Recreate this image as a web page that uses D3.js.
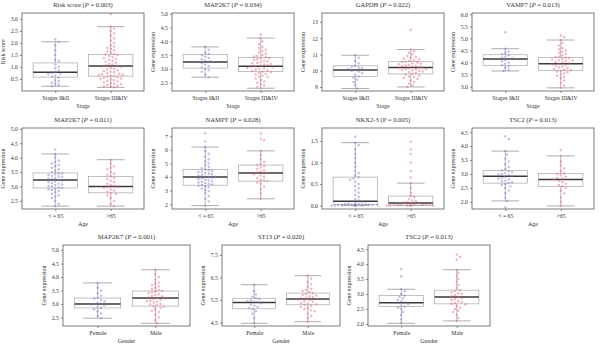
<!DOCTYPE html>
<html>
<head>
<meta charset="utf-8">
<script src="https://cdn.jsdelivr.net/npm/d3@7/dist/d3.min.js"></script>
<style>
  body { margin: 0; background: #fff; }
  svg text { font-family: "Liberation Serif", "DejaVu Serif", serif; fill: #333; }
</style>
</head>
<body>
<div id="chart"></div>
<script>
// values (box = [low whisker, Q1, median, Q3, high whisker])
const genes = ["Risk score", "MAP2K7", "GAPDH", "VAMP7", "MAP2K7", "NAMPT", "NKX2-3", "TSC2", "MAP2K7", "ST13", "TSC2"];
const pvals = ["0.003", "0.034", "0.022", "0.013", "0.011", "0.028", "0.005", "0.013", "0.001", "0.020", "0.013"];
const yTitles = ["Risk score", "Gene expression", "Gene expression", "Gene expression", "Gene expression", "Gene expression",
  "Gene expression", "Gene expression", "Gene expression", "Gene expression", "Gene expression"];
const xTitles = ["Stage", "Stage", "Stage", "Stage", "Age", "Age", "Age", "Age", "Gender", "Gender", "Gender"];
const stageCats = ["Stages I&II", "Stages III&IV"];
const ageCats = ["< = 65", ">65"];
const genderCats = ["Female", "Male"];

const yDomains = [[0.0, 3.25], [2.2, 5.03], [8.75, 13.55], [2.82, 6.05], [2.22, 5.03], [1.65, 7.6],
  [-0.08, 1.8], [1.74, 4.65], [2.18, 5.19], [4.35, 7.94], [1.93, 4.64]];
const yTicks = [
  [0.5, 1.0, 1.5, 2.0, 2.5, 3.0],
  [2.5, 3.0, 3.5, 4.0, 4.5, 5.0],
  [9, 10, 11, 12, 13],
  [3.0, 3.5, 4.0, 4.5, 5.0, 5.5, 6.0],
  [2.5, 3.0, 3.5, 4.0, 4.5, 5.0],
  [2, 3, 4, 5, 6, 7],
  [0.0, 0.5, 1.0, 1.5],
  [2.0, 2.5, 3.0, 3.5, 4.0, 4.5],
  [2.5, 3.0, 3.5, 4.0, 4.5, 5.0],
  [4.5, 5.5, 6.5, 7.5],
  [2.0, 2.5, 3.0, 3.5, 4.0, 4.5]
];
const tickFormats = [".1f", ".1f", "d", ".1f", ".1f", "d", ".1f", ".1f", ".1f", ".1f", ".1f"];

const boxA = [[0.2, 0.58, 0.78, 1.17, 2.05], [2.7, 3.03, 3.25, 3.52, 3.8], [8.9, 9.65, 10.05, 10.3, 10.95],
  [3.65, 3.88, 4.15, 4.32, 4.57], [2.32, 2.95, 3.23, 3.47, 4.13], [1.9, 3.4, 4.0, 4.55, 6.2],
  [0.0, 0.02, 0.1, 0.66, 1.46], [2.03, 2.67, 2.92, 3.13, 3.82], [2.47, 2.85, 3.0, 3.22, 3.78],
  [4.47, 5.11, 5.39, 5.58, 6.18], [2.02, 2.58, 2.71, 2.95, 3.16]];
const boxB = [[0.15, 0.62, 1.04, 1.52, 2.68], [2.3, 2.9, 3.1, 3.42, 4.12], [9.0, 9.8, 10.2, 10.55, 11.3],
  [2.95, 3.67, 3.95, 4.2, 4.93], [2.32, 2.78, 3.0, 3.35, 3.93], [2.4, 3.7, 4.3, 4.88, 5.92],
  [0.0, 0.01, 0.06, 0.22, 0.52], [1.85, 2.55, 2.8, 3.02, 3.65], [2.28, 2.92, 3.22, 3.48, 4.27],
  [4.54, 5.29, 5.55, 5.81, 6.58], [2.1, 2.67, 2.9, 3.13, 3.81]];

// individual samples, group A (blue) and group B (red)
const ptsA = [
  "0.2 0.25 0.3 0.35 0.4 0.45 0.55 0.6 0.65 0.7 0.72 0.75 0.8 0.85 0.95 1.0 1.1 1.25 1.3 1.5 1.7 1.9 2.05 2.15",
  "2.7 2.8 2.9 2.95 3.0 3.05 3.1 3.15 3.2 3.25 3.28 3.3 3.35 3.4 3.45 3.5 3.55 3.6 3.7 3.8",
  "8.9 9.1 9.3 9.45 9.55 9.65 9.75 9.85 9.95 10.0 10.05 10.1 10.15 10.2 10.25 10.3 10.45 10.6 10.8 10.95",
  "3.65 3.7 3.78 3.85 3.9 3.95 4.0 4.05 4.1 4.15 4.18 4.2 4.25 4.3 4.35 4.4 4.45 4.57 5.25",
  "2.32 2.4 2.5 2.6 2.65 2.7 2.75 2.8 2.85 2.88 2.9 2.92 2.95 2.97 3.0 3.02 3.05 3.07 3.1 3.12 3.15 3.17 3.2 3.22 3.23 3.25 3.27 3.3 3.32 3.35 3.37 3.4 3.42 3.45 3.47 3.5 3.55 3.6 3.65 3.7 3.75 3.8 3.85 3.9 4.0 4.13 4.28",
  "1.9 2.2 2.4 2.6 2.8 2.95 3.05 3.15 3.25 3.3 3.35 3.4 3.45 3.5 3.55 3.6 3.65 3.7 3.75 3.8 3.85 3.9 3.95 4.0 4.02 4.05 4.1 4.15 4.2 4.25 4.3 4.35 4.4 4.45 4.5 4.55 4.65 4.75 4.85 5.0 5.15 5.3 5.5 5.7 5.9 6.2 6.6 7.2",
  "0 0 0 0 0 0 0 0.01 0.01 0.01 0.02 0.02 0.02 0.03 0.03 0.04 0.05 0.06 0.08 0.1 0.12 0.15 0.2 0.25 0.3 0.35 0.4 0.45 0.5 0.55 0.6 0.63 0.66 0.7 0.75 0.8 0.9 1.0 1.1 1.2 1.3 1.4 1.46 1.6",
  "1.8 2.03 2.15 2.3 2.4 2.5 2.55 2.6 2.63 2.67 2.7 2.73 2.76 2.8 2.83 2.86 2.9 2.92 2.95 2.98 3.0 3.03 3.06 3.1 3.13 3.18 3.25 3.35 3.45 3.55 3.7 3.82 4.25 4.35",
  "2.47 2.55 2.65 2.72 2.8 2.85 2.9 2.95 2.98 3.0 3.02 3.05 3.1 3.15 3.2 3.22 3.3 3.4 3.5 3.6 3.78",
  "4.47 4.7 4.9 5.0 5.1 5.15 5.2 5.25 5.3 5.35 5.4 5.42 5.45 5.5 5.55 5.58 5.65 5.75 5.9 6.18",
  "2.02 2.15 2.3 2.4 2.5 2.55 2.58 2.62 2.66 2.7 2.72 2.75 2.8 2.85 2.9 2.95 3.0 3.1 3.16 3.59 3.83"
];
const ptsB = [
  "0.15 0.18 0.2 0.22 0.25 0.28 0.3 0.33 0.36 0.4 0.42 0.45 0.48 0.5 0.52 0.55 0.58 0.6 0.62 0.64 0.66 0.68 0.7 0.72 0.75 0.78 0.8 0.83 0.86 0.9 0.93 0.96 1.0 1.02 1.04 1.06 1.1 1.14 1.18 1.22 1.26 1.3 1.34 1.38 1.42 1.46 1.5 1.52 1.55 1.6 1.65 1.7 1.75 1.8 1.85 1.9 2.0 2.1 2.2 2.3 2.4 2.5 2.6 2.68 3.2",
  "2.3 2.35 2.4 2.45 2.5 2.55 2.6 2.65 2.7 2.72 2.75 2.8 2.82 2.85 2.88 2.9 2.92 2.95 2.97 3.0 3.02 3.04 3.06 3.08 3.1 3.12 3.14 3.16 3.18 3.2 3.22 3.25 3.28 3.3 3.32 3.35 3.38 3.4 3.42 3.45 3.48 3.5 3.55 3.6 3.65 3.7 3.75 3.8 3.9 4.0 4.12 4.25",
  "9.0 9.1 9.2 9.3 9.4 9.5 9.55 9.6 9.65 9.7 9.75 9.8 9.85 9.9 9.95 10.0 10.02 10.05 10.08 10.1 10.12 10.15 10.18 10.2 10.22 10.25 10.28 10.3 10.33 10.36 10.4 10.43 10.46 10.5 10.53 10.56 10.6 10.65 10.7 10.75 10.8 10.85 10.9 11.0 11.1 11.2 11.3 12.5",
  "2.95 3.05 3.15 3.25 3.35 3.4 3.45 3.5 3.55 3.6 3.62 3.65 3.68 3.7 3.73 3.76 3.8 3.83 3.86 3.9 3.92 3.95 3.97 4.0 4.02 4.05 4.08 4.1 4.12 4.15 4.18 4.2 4.22 4.25 4.3 4.35 4.4 4.45 4.5 4.55 4.6 4.7 4.8 4.93 5.05 5.12",
  "2.32 2.4 2.5 2.6 2.7 2.75 2.78 2.82 2.86 2.9 2.95 2.98 3.0 3.02 3.05 3.1 3.15 3.2 3.25 3.3 3.35 3.4 3.45 3.5 3.6 3.65 3.7 3.8 3.93",
  "2.4 2.8 3.1 3.3 3.5 3.6 3.7 3.75 3.8 3.9 4.0 4.1 4.2 4.25 4.3 4.35 4.4 4.5 4.6 4.7 4.8 4.88 4.95 5.1 5.3 5.6 5.92 6.7 6.8 7.2",
  "0 0 0 0 0 0 0.01 0.01 0.01 0.02 0.02 0.03 0.04 0.05 0.06 0.07 0.08 0.1 0.12 0.15 0.2 0.22 0.3 0.4 0.52 0.65 0.8 1.0 1.2 1.3 1.48",
  "1.85 2.0 2.15 2.3 2.4 2.5 2.55 2.6 2.65 2.7 2.75 2.8 2.83 2.86 2.9 2.95 3.0 3.02 3.1 3.2 3.3 3.45 3.65 3.85",
  "2.28 2.4 2.5 2.6 2.7 2.75 2.8 2.85 2.9 2.92 2.95 2.98 3.0 3.05 3.08 3.1 3.12 3.15 3.18 3.2 3.22 3.25 3.28 3.3 3.33 3.36 3.4 3.43 3.46 3.48 3.52 3.56 3.6 3.65 3.7 3.75 3.8 3.9 4.0 4.1 4.27",
  "4.54 4.7 4.8 4.9 5.0 5.05 5.1 5.15 5.2 5.25 5.29 5.32 5.35 5.38 5.42 5.45 5.5 5.52 5.55 5.58 5.6 5.63 5.66 5.7 5.73 5.76 5.8 5.85 5.9 5.95 6.0 6.1 6.2 6.3 6.45 6.58",
  "2.1 2.2 2.3 2.4 2.45 2.5 2.55 2.6 2.65 2.67 2.7 2.73 2.76 2.8 2.83 2.86 2.9 2.93 2.96 3.0 3.03 3.06 3.1 3.13 3.2 3.3 3.4 3.5 3.6 3.7 3.81 4.15 4.24 4.32"
];

// panel plot areas [left, right, top, bottom]
const frames = [
  [22, 144, 13, 91], [172, 294, 13, 91], [322, 444, 13, 91], [472, 594, 13, 91],
  [22, 144, 128, 209], [172, 294, 128, 209], [322, 444, 128, 209], [472, 594, 128, 209],
  [63, 190, 245, 326], [222, 340, 245, 326], [368, 490, 245, 326]
];

const W = 600, H = 345;
const colA = "#7a7ac8", colB = "#e4667c";

const svg = d3.select("#chart").append("svg")
  .attr("width", W).attr("height", H);

function swarm(vals, y, d, maxOff) {
  // simple beeswarm: place each point as close to the centre as possible
  let items = vals.map(v => ({ v: v, py: y(v) })).sort((a, b) => a.py - b.py);
  let placed = [];
  items.forEach(it => {
    let best = 0;
    for (let k = 0; k < 80; k++) {
      let off = (k % 2 ? 1 : -1) * Math.ceil(k / 2) * d * 0.5;
      if (Math.abs(off) > maxOff) continue;
      let ok = placed.every(p => (p.dx - off) ** 2 + (p.py - it.py) ** 2 >= d * d);
      if (ok) { best = off; break; }
    }
    it.dx = best;
    placed.push(it);
  });
  return items;
}

genes.forEach((g, i) => {
  const [l, r, t, b] = frames[i];
  const cats = xTitles[i] == "Stage" ? stageCats : xTitles[i] == "Age" ? ageCats : genderCats;
  const x = d3.scaleLinear().domain([0.4, 2.6]).range([l, r]);
  const y = d3.scaleLinear().domain(yDomains[i]).range([b, t]);
  const p = svg.append("g");

  // title
  const title = p.append("text")
    .attr("x", (l + r) / 2).attr("y", t - 6)
    .attr("text-anchor", "middle").style("font-size", "6.6px");
  title.append("tspan").text(g + " (");
  title.append("tspan").style("font-style", g == "NKX2-3" ? "normal" : "italic").text("P");
  title.append("tspan").text(" = " + pvals[i] + ")");

  // axes
  p.append("g").attr("transform", `translate(${l},0)`)
    .call(d3.axisLeft(y).tickValues(yTicks[i]).tickFormat(d3.format(tickFormats[i])).tickSize(2).tickPadding(2))
    .call(a => a.select(".domain").remove())
    .call(a => a.selectAll("line").attr("stroke", "#444").attr("stroke-width", 0.6))
    .call(a => a.selectAll("text").attr("font-family", null).style("font-size", "5.8px").attr("fill", "#333"));
  p.append("g").attr("transform", `translate(0,${b})`)
    .call(d3.axisBottom(x).tickValues([1, 2]).tickFormat(d => cats[d - 1]).tickSize(2).tickPadding(3))
    .call(a => a.select(".domain").remove())
    .call(a => a.selectAll("line").attr("stroke", "#444").attr("stroke-width", 0.6))
    .call(a => a.selectAll("text").attr("font-family", null).style("font-size", "5.8px").attr("fill", "#333"));

  p.append("text")
    .attr("transform", `translate(${l - 17},${(t + b) / 2}) rotate(-90)`)
    .attr("text-anchor", "middle").style("font-size", "6px").text(yTitles[i]);
  p.append("text")
    .attr("x", (l + r) / 2).attr("y", b + 17)
    .attr("text-anchor", "middle").style("font-size", "6px").text(xTitles[i]);

  // boxes
  [[boxA[i], ptsA[i], colA, 1], [boxB[i], ptsB[i], colB, 2]].forEach(([bx, pts, col, c]) => {
    const cx = x(c), hw = x(0.4 + 0.4) - x(0.4), cw = x(0.4 + 0.25) - x(0.4);
    const gg = p.append("g");
    gg.append("line").attr("x1", cx).attr("x2", cx).attr("y1", y(bx[0])).attr("y2", y(bx[4]))
      .attr("stroke", "#8a8a8a").attr("stroke-width", 0.6);
    [bx[0], bx[4]].forEach(v => gg.append("line")
      .attr("x1", cx - cw).attr("x2", cx + cw).attr("y1", y(v)).attr("y2", y(v))
      .attr("stroke", "#8a8a8a").attr("stroke-width", 0.7));
    gg.append("rect").attr("x", cx - hw).attr("width", 2 * hw)
      .attr("y", y(bx[3])).attr("height", y(bx[1]) - y(bx[3]))
      .attr("fill", "#fff").attr("stroke", "#9a9a9a").attr("stroke-width", 0.6);
    gg.append("line").attr("x1", cx - hw).attr("x2", cx + hw).attr("y1", y(bx[2])).attr("y2", y(bx[2]))
      .attr("stroke", "#3a3a3a").attr("stroke-width", 1.5);

    const vals = pts.split(" ").map(Number);
    gg.selectAll("circle").data(swarm(vals, y, 3.4, hw * 1.1)).enter().append("circle")
      .attr("cx", d => cx + d.dx).attr("cy", d => d.py).attr("r", 0.95)
      .attr("fill", col).attr("fill-opacity", 0.35)
      .attr("stroke", col).attr("stroke-opacity", 0.75).attr("stroke-width", 0.4);
  });

  // frame
  p.append("rect").attr("x", l).attr("y", t).attr("width", r - l).attr("height", b - t)
    .attr("fill", "none").attr("stroke", "#444").attr("stroke-width", 0.7);
});
</script>
</body>
</html>
